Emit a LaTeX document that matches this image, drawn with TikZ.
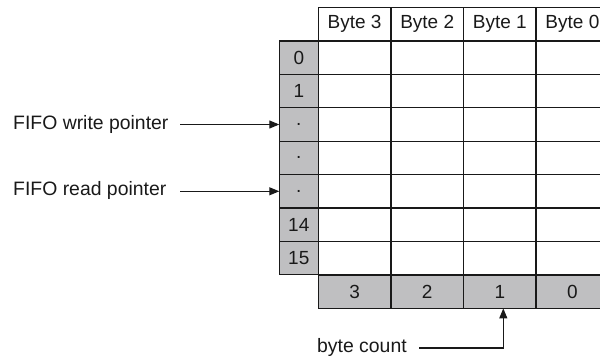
\documentclass[tikz,border=0pt]{standalone}
\usepackage{fontspec}
\setmainfont{Liberation Sans}
\usetikzlibrary{arrows.meta}
\definecolor{cellgray}{RGB}{191,191,193}
\definecolor{ink}{RGB}{25,25,25}
\begin{document}
\begin{tikzpicture}[x=1pt,y=-1pt,
  cell/.style={draw=ink, line width=1.3pt, minimum width=72.6pt, minimum height=33.4pt,
    inner sep=0pt, outer sep=0pt, font=\fontsize{19}{22}\selectfont, text=ink},
  idx/.style={cell, fill=cellgray, minimum width=39pt},
  cnt/.style={cell, fill=cellgray},
  lbl/.style={inner sep=0pt, font=\fontsize{19.4}{22}\selectfont, text=ink},
  ptr/.style={draw=ink, line width=1.1pt, -{Triangle[length=10pt,width=8pt]}}]
\useasboundingbox (0,0) rectangle (600,358);
% header
\node[cell] (h3) at (354.6,24.3) {Byte 3};
\node[cell] (h2) at (427.2,24.3) {Byte 2};
\node[cell] (h1) at (499.8,24.3) {Byte 1};
\node[cell] (h0) at (572.4,24.3) {Byte 0};
% grid of empty cells
\foreach \r in {0,...,6}{
  \foreach \c in {0,...,3}{
    \node[cell] (g-\r-\c) at ({354.6+72.6*\c},{57.7+33.4*\r}) {};
  }
}
% index column
\node[idx] (i0) at (298.8,57.7) {0};
\node[idx] (i1) at (298.8,91.1) {1};
\node[idx] (i2) at (298.8,124.5) {.};
\node[idx] (i3) at (298.8,157.9) {.};
\node[idx] (i4) at (298.8,191.3) {.};
\node[idx] (i5) at (298.8,224.7) {14};
\node[idx] (i6) at (298.8,258.1) {15};
% byte count row
\node[cnt] (b3) at (354.6,291.7) {3};
\node[cnt] (b2) at (427.2,291.7) {2};
\node[cnt] (b1) at (499.8,291.7) {1};
\node[cnt] (b0) at (572.4,291.7) {0};
% labels
\node[lbl, anchor=west] (wl) at (13,124.5) {FIFO write pointer};
\node[lbl, anchor=west] (rl) at (13,190) {FIFO read pointer};
\node[lbl, anchor=west] (bl) at (317,347) {byte count};
% arrows
\coordinate (ws) at (180,124.5);
\coordinate (rs) at (180,191.3);
\coordinate (bs) at (419,348);
\draw[ptr] (ws) -- (i2.west);
\draw[ptr] (rs) -- (i4.west);
\draw[ptr] (bs) -| ([xshift=3.5pt]b1.south);
\end{tikzpicture}
\end{document}
